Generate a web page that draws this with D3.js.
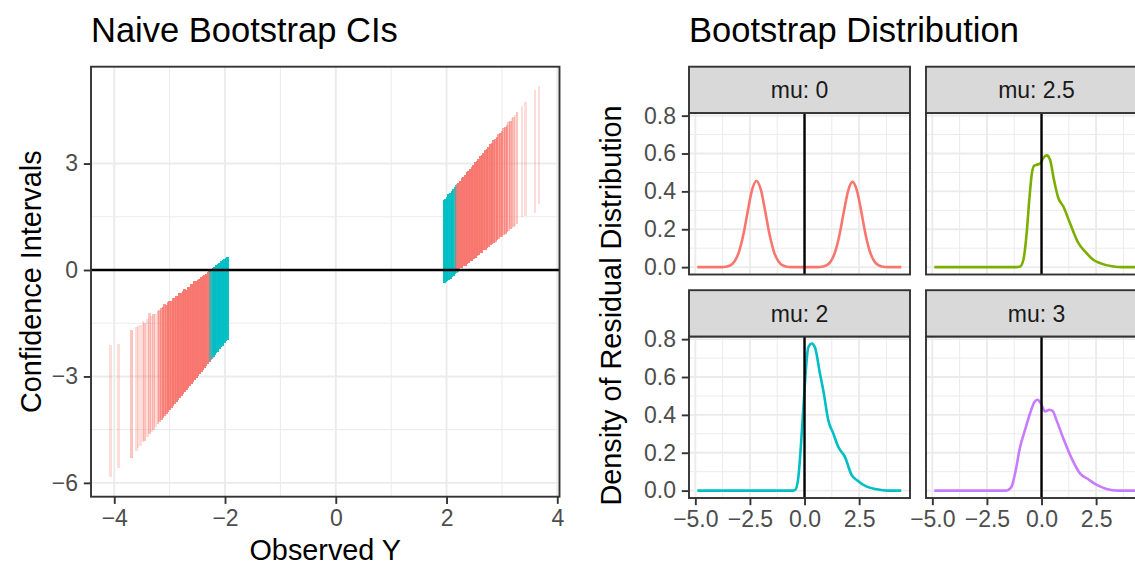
<!DOCTYPE html>
<html>
<head>
<meta charset="utf-8">
<script src="https://cdn.jsdelivr.net/npm/d3@7"></script>
<style>
html, body { margin: 0; padding: 0; background: #fff; }
svg { display: block; font-family: "Liberation Sans", Arial, Helvetica, sans-serif; }
</style>
</head>
<body>
<svg id="chart" width="1135" height="565"></svg>
<script>
// ---- Naive bootstrap intervals: [observed Y, lower, upper, stacked draws] ----
const ciNegative = [
  [-4.07,-5.84,-2.11,1],[-3.92,-5.57,-2.08,1],[-3.69,-5.31,-1.70,2],[-3.60,-5.09,-1.62,1],
  [-3.57,-5.03,-1.58,1],[-3.53,-4.96,-1.55,1],[-3.48,-4.86,-1.45,1],[-3.45,-4.81,-1.48,2],
  [-3.40,-4.71,-1.38,1],[-3.36,-4.63,-1.22,2],[-3.33,-4.58,-1.30,1],[-3.29,-4.50,-1.25,2],
  [-3.25,-4.43,-1.24,1],[-3.21,-4.35,-1.15,2],[-3.18,-4.29,-1.13,3],[-3.15,-4.24,-1.06,4],
  [-3.12,-4.18,-1.05,5],[-3.09,-4.12,-0.97,5],[-3.06,-4.06,-0.99,6],[-3.03,-4.01,-0.90,6],
  [-3.00,-3.95,-0.86,7],[-2.97,-3.89,-0.87,7],[-2.94,-3.84,-0.80,8],[-2.91,-3.78,-0.79,8],
  [-2.88,-3.72,-0.72,9],[-2.85,-3.67,-0.73,9],[-2.82,-3.61,-0.64,10],[-2.79,-3.55,-0.66,10],
  [-2.76,-3.49,-0.60,10],[-2.73,-3.44,-0.53,11],[-2.70,-3.38,-0.55,11],[-2.67,-3.32,-0.47,11],
  [-2.64,-3.27,-0.48,11],[-2.61,-3.21,-0.40,12],[-2.58,-3.15,-0.39,12],[-2.55,-3.10,-0.32,12],
  [-2.52,-3.04,-0.31,12],[-2.49,-2.98,-0.28,12],[-2.46,-2.92,-0.25,12],[-2.43,-2.87,-0.19,12],
  [-2.40,-2.81,-0.18,12],[-2.37,-2.75,-0.13,12],[-2.34,-2.70,-0.10,12],[-2.31,-2.64,-0.07,12],
  [-2.28,-2.58,-0.04,8],[-2.27,-2.56,0.02,3],[-2.25,-2.53,-0.03,6],[-2.24,-2.51,0.04,4],
  [-2.22,-2.47,-0.01,4],[-2.21,-2.45,0.07,8],[-2.19,-2.41,0.09,12],[-2.16,-2.35,0.13,12],
  [-2.13,-2.30,0.16,12],[-2.10,-2.24,0.20,12],[-2.07,-2.18,0.24,12],[-2.04,-2.13,0.27,12],
  [-2.01,-2.07,0.31,12],[-1.98,-2.01,0.34,12],[-1.96,-1.97,0.37,12]
];
const ciPositive = [
  [1.96,-0.38,1.97,12],[1.98,-0.34,2.01,12],[2.01,-0.31,2.07,12],[2.04,-0.27,2.13,12],
  [2.07,-0.24,2.18,12],[2.10,-0.20,2.24,12],[2.13,-0.16,2.29,12],[2.15,-0.12,2.33,8],
  [2.16,0.02,2.35,4],[2.18,-0.09,2.39,5],[2.19,0.03,2.41,5],[2.21,-0.05,2.44,4],
  [2.22,0.04,2.46,8],[2.25,0.05,2.52,12],[2.28,0.07,2.58,12],[2.31,0.10,2.63,12],
  [2.34,0.12,2.69,12],[2.37,0.17,2.75,12],[2.40,0.19,2.80,12],[2.43,0.25,2.86,12],
  [2.46,0.26,2.91,11],[2.49,0.32,2.97,11],[2.52,0.34,3.03,11],[2.55,0.40,3.08,10],
  [2.58,0.42,3.14,10],[2.61,0.47,3.20,10],[2.64,0.49,3.25,9],[2.67,0.55,3.31,9],
  [2.70,0.57,3.37,8],[2.73,0.62,3.42,8],[2.76,0.64,3.48,7],[2.79,0.70,3.54,8],
  [2.82,0.72,3.59,6],[2.85,0.77,3.65,7],[2.88,0.79,3.70,5],[2.91,0.85,3.76,6],
  [2.94,0.87,3.82,4],[2.97,0.92,3.87,5],[3.00,0.94,3.93,4],[3.03,1.00,3.99,3],
  [3.06,1.02,4.04,4],[3.09,1.07,4.10,3],[3.12,1.09,4.16,2],[3.15,1.15,4.21,3],
  [3.18,1.17,4.27,1],[3.21,1.22,4.32,2],[3.24,1.24,4.38,1],[3.27,1.29,4.44,2],
  [3.36,1.50,4.61,1],[3.43,1.52,4.74,1],[3.60,1.60,5.06,1],[3.67,1.86,5.19,1]
];
const ciXTicks = [-4, -2, 0, 2, 4];
const ciYTicks = [-6, -3, 0, 3];

// ---- Bootstrap residual densities, one per mu ----
const facetLabels = ["mu: 0", "mu: 2.5", "mu: 2", "mu: 3"];
const densX_mu0 = [-4.91,-3.8,-3.6,-3.4,-3.2,-3.0,-2.8,-2.6,-2.4,-2.2,-2.0,-1.8,-1.6,-1.4,-1.2,-1.0,-0.8,-0.6,
                   0.6,0.8,1.0,1.2,1.4,1.6,1.8,2.0,2.2,2.4,2.6,2.8,3.0,3.2,3.4,3.6,3.8,4.43];
const densY_mu0 = [0,0,0.002,0.009,0.031,0.081,0.172,0.295,0.409,0.455,0.409,0.295,0.172,0.081,0.031,0.009,0.002,0,
                   0,0.002,0.009,0.030,0.080,0.170,0.292,0.404,0.450,0.404,0.292,0.170,0.080,0.030,0.009,0.002,0,0];
const densX_mu25 = [-4.91,-1.15,-0.98,-0.83,-0.68,-0.56,-0.45,-0.34,-0.22,-0.07,0.08,0.24,0.39,0.57,0.77,1.00,
                    1.30,1.69,1.99,2.37,2.68,3.29,3.7,4.43];
const densY_mu25 = [0,0,0.003,0.039,0.180,0.356,0.488,0.535,0.541,0.546,0.576,0.590,0.567,0.461,0.365,0.320,
                    0.233,0.127,0.083,0.039,0.021,0.003,0,0];
const densX_mu2 = [-4.91,-0.55,-0.43,-0.28,-0.17,-0.05,0.07,0.17,0.33,0.48,0.71,0.86,1.09,1.32,1.55,1.85,
                   2.16,2.39,2.85,3.31,3.8,4.43];
const densY_mu2 = [0,0,0.004,0.073,0.230,0.441,0.651,0.756,0.777,0.756,0.616,0.529,0.371,0.301,0.230,0.178,
                   0.082,0.056,0.021,0.007,0,0];
const densX_mu3 = [-4.91,-1.65,-1.52,-1.37,-1.21,-0.98,-0.76,-0.53,-0.33,-0.18,-0.02,0.16,0.36,0.51,0.69,1.00,
                   1.38,1.76,2.14,2.53,2.98,3.5,4.43];
const densY_mu3 = [0,0,0.004,0.021,0.091,0.231,0.319,0.406,0.467,0.480,0.459,0.418,0.427,0.420,0.371,0.275,
                   0.170,0.091,0.060,0.030,0.009,0,0];
const densXTicks = [-5, -2.5, 0, 2.5, 5];
const densYTicks = [0, 0.2, 0.4, 0.6, 0.8];

// ---- styling ----
const COVER = "#00BFC4", MISS = "#F8766D";
const facetColors = ["#F8766D", "#7CAE00", "#00BFC4", "#C77CFF"];
const GRID = "#EBEBEB", FRAME = "#333333", TICKTXT = "#4D4D4D";
const TICK_FS = 23, AXTITLE_FS = 28.8, TITLE_FS = 34.5;
const TICK_LEN = 7.2, TICK_PAD = 5.8;
const ciAlpha = 0.25;

const svg = d3.select("#chart");
const defs = svg.append("defs");
const mids = t => d3.pairs(t).map(([a, b]) => (a + b) / 2);

function grid(g, xs, ys, xMajor, yMajor, box) {
  const xMinor = mids(xMajor), yMinor = mids(yMajor);
  const inX = v => xs(v) >= box.x0 && xs(v) <= box.x1;
  const inY = v => ys(v) >= box.y0 && ys(v) <= box.y1;
  g.selectAll(null).data(yMinor.filter(inY)).join("line")
    .attr("x1", box.x0).attr("x2", box.x1).attr("y1", ys).attr("y2", ys)
    .attr("stroke", GRID).attr("stroke-width", 1);
  g.selectAll(null).data(xMinor.filter(inX)).join("line")
    .attr("y1", box.y0).attr("y2", box.y1).attr("x1", xs).attr("x2", xs)
    .attr("stroke", GRID).attr("stroke-width", 1);
  g.selectAll(null).data(yMajor.filter(inY)).join("line")
    .attr("x1", box.x0).attr("x2", box.x1).attr("y1", ys).attr("y2", ys)
    .attr("stroke", GRID).attr("stroke-width", 1.9);
  g.selectAll(null).data(xMajor.filter(inX)).join("line")
    .attr("y1", box.y0).attr("y2", box.y1).attr("x1", xs).attr("x2", xs)
    .attr("stroke", GRID).attr("stroke-width", 1.9);
}

function styleAxis(g) {
  g.select(".domain").remove();
  g.selectAll(".tick line").attr("stroke", FRAME).attr("stroke-width", 1.9);
  g.selectAll(".tick text").attr("fill", TICKTXT).attr("font-size", TICK_FS)
    .attr("font-family", '"Liberation Sans", Arial, sans-serif');
}

function clip(id, box) {
  defs.append("clipPath").attr("id", id).append("rect")
    .attr("x", box.x0).attr("y", box.y0)
    .attr("width", box.x1 - box.x0).attr("height", box.y1 - box.y0);
}

// ================= Left: naive bootstrap CIs =================
const L = { x0: 91, x1: 559.5, y0: 66.7, y1: 496.7 };
const xL = d3.scaleLinear().domain([-4.42, 4.04]).range([L.x0, L.x1]);
const yL = d3.scaleLinear().domain([-6.39, 5.73]).range([L.y1, L.y0]);
clip("clipL", L);

const gL = svg.append("g");
grid(gL.append("g"), xL, yL, ciXTicks, ciYTicks, L);

// pixel-snapped ranges so neighbouring intervals butt together without seams
const ciRows = ciNegative.concat(ciPositive);
gL.append("g").attr("clip-path", "url(#clipL)")
  .attr("shape-rendering", "crispEdges")
  .selectAll("line").data(ciRows).join("line")
  .attr("x1", d => xL(d[0])).attr("x2", d => xL(d[0]))
  .attr("y1", d => yL(d[1])).attr("y2", d => yL(d[2]))
  .attr("stroke", d => (d[1] <= 0 && d[2] >= 0) ? COVER : MISS)
  .attr("stroke-opacity", d => 1 - Math.pow(1 - ciAlpha, d[3]))
  .attr("stroke-width", 2.6);

gL.append("line").attr("x1", L.x0).attr("x2", L.x1)
  .attr("y1", yL(0)).attr("y2", yL(0))
  .attr("stroke", "#000").attr("stroke-width", 2.6);

gL.append("rect").attr("x", L.x0).attr("y", L.y0)
  .attr("width", L.x1 - L.x0).attr("height", L.y1 - L.y0)
  .attr("fill", "none").attr("stroke", FRAME).attr("stroke-width", 1.9);

gL.append("g").attr("transform", `translate(${L.x0},0)`)
  .call(d3.axisLeft(yL).tickValues(ciYTicks).tickSize(TICK_LEN).tickPadding(TICK_PAD).tickFormat(d3.format("d")))
  .call(styleAxis);
gL.append("g").attr("transform", `translate(0,${L.y1})`)
  .call(d3.axisBottom(xL).tickValues(ciXTicks).tickSize(TICK_LEN).tickPadding(TICK_PAD).tickFormat(d3.format("d")))
  .call(styleAxis);

svg.append("text").attr("x", L.x0).attr("y", 42).attr("font-size", TITLE_FS)
  .attr("fill", "#000").text("Naive Bootstrap CIs");
svg.append("text").attr("x", (L.x0 + L.x1) / 2).attr("y", 560).attr("text-anchor", "middle")
  .attr("font-size", AXTITLE_FS).attr("fill", "#000").text("Observed Y");
svg.append("text").attr("transform", `translate(41,${(L.y0 + L.y1) / 2}) rotate(-90)`)
  .attr("text-anchor", "middle").attr("font-size", AXTITLE_FS).attr("fill", "#000")
  .text("Confidence Intervals");

// ================= Right: faceted densities =================
const colX = [689, 926], panelW = 221;
const rows = [
  { strip: 66.7, top: 113, bottom: 274.5 },
  { strip: 290.2, top: 336.5, bottom: 498 }
];
const densSeries = [
  { xs: densX_mu0, ys: densY_mu0 },
  { xs: densX_mu25, ys: densY_mu25 },
  { xs: densX_mu2, ys: densY_mu2 },
  { xs: densX_mu3, ys: densY_mu3 }
];

facetLabels.forEach((label, i) => {
  const r = Math.floor(i / 2), c = i % 2;
  const row = rows[r];
  const box = { x0: colX[c], x1: colX[c] + panelW, y0: row.top, y1: row.bottom };
  const xs = d3.scaleLinear().domain([-5.29, 4.83]).range([box.x0, box.x1]);
  const ys = d3.scaleLinear().domain([-0.039, 0.814]).range([box.y1, box.y0]);
  const id = "clipF" + i;
  clip(id, box);
  const g = svg.append("g");

  grid(g.append("g"), xs, ys, densXTicks, densYTicks, box);

  const pts = densSeries[i].xs.map((x, k) => [x, densSeries[i].ys[k]]);
  g.append("path").attr("clip-path", `url(#${id})`)
    .attr("d", d3.line().x(d => xs(d[0])).y(d => ys(d[1])).curve(d3.curveMonotoneX)(pts))
    .attr("fill", "none").attr("stroke", facetColors[i]).attr("stroke-width", 2.6)
    .attr("stroke-linejoin", "round");

  g.append("line").attr("x1", xs(0)).attr("x2", xs(0)).attr("y1", box.y0).attr("y2", box.y1)
    .attr("stroke", "#000").attr("stroke-width", 2.4);

  g.append("rect").attr("x", box.x0).attr("y", box.y0)
    .attr("width", panelW).attr("height", box.y1 - box.y0)
    .attr("fill", "none").attr("stroke", FRAME).attr("stroke-width", 1.9);

  // strip
  g.append("rect").attr("x", box.x0).attr("y", row.strip)
    .attr("width", panelW).attr("height", row.top - row.strip)
    .attr("fill", "#D9D9D9").attr("stroke", FRAME).attr("stroke-width", 1.9);
  g.append("text").attr("x", box.x0 + panelW / 2).attr("y", (row.strip + row.top) / 2)
    .attr("dy", "0.36em").attr("text-anchor", "middle")
    .attr("font-size", TICK_FS).attr("fill", "#1A1A1A").text(label);

  // only ticks inside the panel's x range get an axis mark
  const xTicksIn = densXTicks.filter(v => v >= xs.domain()[0] && v <= xs.domain()[1]);
  if (c === 0) {
    g.append("g").attr("transform", `translate(${box.x0},0)`)
      .call(d3.axisLeft(ys).tickValues(densYTicks).tickSize(TICK_LEN).tickPadding(TICK_PAD).tickFormat(d3.format(".1f")))
      .call(styleAxis);
  }
  if (r === 1) {
    g.append("g").attr("transform", `translate(0,${box.y1})`)
      .call(d3.axisBottom(xs).tickValues(xTicksIn).tickSize(TICK_LEN).tickPadding(TICK_PAD).tickFormat(d3.format(".1f")))
      .call(styleAxis);
  }
});

svg.append("text").attr("x", colX[0]).attr("y", 42).attr("font-size", TITLE_FS)
  .attr("fill", "#000").text("Bootstrap Distribution");
svg.append("text").attr("transform", `translate(621,${(rows[0].top + rows[1].bottom) / 2}) rotate(-90)`)
  .attr("text-anchor", "middle").attr("font-size", AXTITLE_FS).attr("fill", "#000")
  .text("Density of Residual Distribution");
</script>
</body>
</html>
